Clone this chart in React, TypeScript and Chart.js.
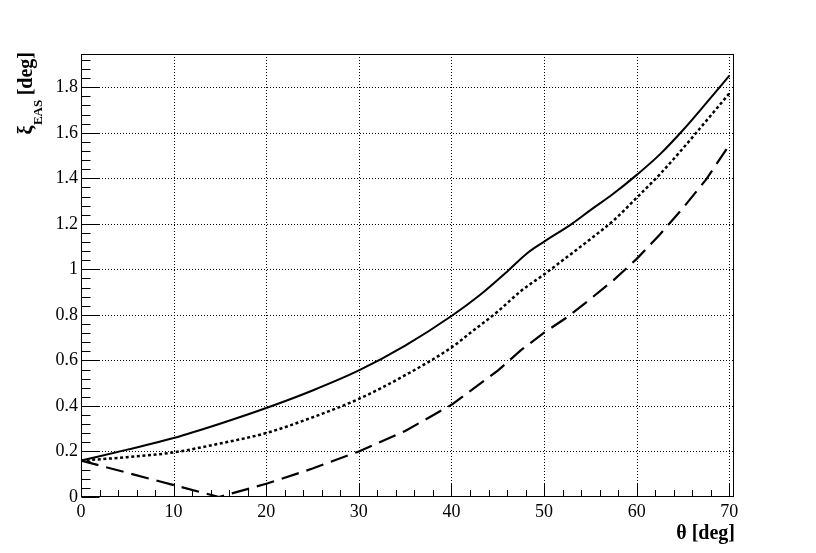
import { useEffect, useRef } from 'react';
import { Chart, registerables } from 'chart.js';
Chart.register(...registerables);

const FONT = '"Liberation Serif", "DejaVu Serif", "Noto Serif", "Times New Roman", serif';

// Solid curve
const thetaSolid = [0, 5, 10, 15, 20, 25, 30, 35, 40, 43, 46, 48.2, 50, 53, 55, 57.5, 60, 62.5, 65, 67.5, 70];
const xiSolid = [0.16, 0.208, 0.259, 0.322, 0.391, 0.468, 0.556, 0.665, 0.795, 0.885, 0.99, 1.072, 1.122, 1.2, 1.26, 1.333, 1.415, 1.505, 1.612, 1.73, 1.851];
// Dotted curve
const thetaDotted = [0, 5, 10, 15, 20, 25, 30, 35, 40, 42, 45, 47.5, 50, 52.5, 55, 57.5, 60, 62.5, 65, 67.5, 70];
const xiDotted = [0.16, 0.175, 0.196, 0.235, 0.281, 0.35, 0.431, 0.535, 0.657, 0.72, 0.815, 0.905, 0.978, 1.055, 1.133, 1.215, 1.315, 1.418, 1.532, 1.652, 1.773];
// Dashed curve
const thetaDashed = [0, 14.9, 20, 25, 30, 35, 40, 45, 47.5, 50, 52.5, 55, 57.5, 60, 62.5, 65, 67.5, 70];
const xiDashed = [0.16, 0.0, 0.058, 0.125, 0.2, 0.29, 0.405, 0.555, 0.645, 0.722, 0.79, 0.87, 0.953, 1.046, 1.153, 1.27, 1.395, 1.547];

const xTicks = [0, 10, 20, 30, 40, 50, 60, 70];
const xTickLabels = ['0', '10', '20', '30', '40', '50', '60', '70'];
const yTicks = [0, 0.2, 0.4, 0.6, 0.8, 1.0, 1.2, 1.4, 1.6, 1.8];
const yTickLabels = ['0', '0.2', '0.4', '0.6', '0.8', '1', '1.2', '1.4', '1.6', '1.8'];
const xMinorStep = 2;
const yMinorStep = 0.04;
const X_MIN = 0, X_MAX = 70.5, Y_MIN = 0, Y_MAX = 1.946;

const xTitle = 'θ [deg]';
const yTitleMain = 'ξ';
const yTitleSub = 'EAS';
const yTitleUnit = ' [deg]';

const toPts = (xs: number[], ys: number[]) => xs.map((x, i) => ({ x, y: ys[i] }));

const rootPlugin = {
  id: 'rootStyle',
  beforeDatasetsDraw(chart: any) {
    const { ctx, chartArea: a } = chart;
    const xs = chart.scales.x, ys = chart.scales.y;
    ctx.save();
    ctx.strokeStyle = '#000';
    ctx.lineWidth = 1;
    ctx.setLineDash([1, 2]);
    xTicks.forEach((v) => {
      if (v === X_MIN) return;
      const px = Math.round(xs.getPixelForValue(v)) + 0.5;
      ctx.beginPath();
      ctx.moveTo(px, a.top);
      ctx.lineTo(px, a.bottom);
      ctx.stroke();
    });
    yTicks.forEach((v) => {
      if (v === Y_MIN) return;
      const py = Math.round(ys.getPixelForValue(v)) + 0.5;
      ctx.beginPath();
      ctx.moveTo(a.left, py);
      ctx.lineTo(a.right, py);
      ctx.stroke();
    });
    ctx.restore();
  },
  afterDatasetsDraw(chart: any) {
    const { ctx, chartArea: a } = chart;
    const xs = chart.scales.x, ys = chart.scales.y;
    ctx.save();
    ctx.strokeStyle = '#000';
    ctx.lineWidth = 1;
    ctx.setLineDash([]);
    const L = Math.round(a.left) + 0.5, R = Math.round(a.right) - 0.5;
    const T = Math.round(a.top) + 0.5, B = Math.round(a.bottom) - 0.5;
    ctx.strokeRect(L, T, R - L, B - T);
    const nx = Math.round((X_MAX - X_MIN) / xMinorStep);
    for (let i = 0; i <= nx; i++) {
      const v = X_MIN + i * xMinorStep;
      if (v > X_MAX) break;
      const major = i % 5 === 0;
      const px = Math.round(xs.getPixelForValue(v)) + 0.5;
      ctx.beginPath();
      ctx.moveTo(px, B);
      ctx.lineTo(px, B - (major ? 13 : 6.5));
      ctx.stroke();
    }
    const ny = Math.round((Y_MAX - Y_MIN) / yMinorStep);
    for (let i = 0; i <= ny; i++) {
      const v = Y_MIN + i * yMinorStep;
      if (v > Y_MAX) break;
      const major = i % 5 === 0;
      const py = Math.round(ys.getPixelForValue(v)) + 0.5;
      ctx.beginPath();
      ctx.moveTo(L, py);
      ctx.lineTo(L + (major ? 18 : 9), py);
      ctx.stroke();
    }
    ctx.restore();
  },
  afterDraw(chart: any) {
    const { ctx } = chart;
    ctx.save();
    ctx.fillStyle = '#000';
    ctx.textBaseline = 'alphabetic';
    ctx.font = `bold 20px ${FONT}`;
    ctx.textAlign = 'right';
    ctx.fillText(xTitle, 735, 538.5);
    ctx.textAlign = 'left';
    const mainFont = `bold 20px ${FONT}`;
    const subFont = `bold 13px ${FONT}`;
    ctx.font = mainFont;
    const wMain = ctx.measureText(yTitleMain).width;
    const wUnit = ctx.measureText(yTitleUnit).width;
    ctx.font = subFont;
    const wSub = ctx.measureText(yTitleSub).width;
    const total = wMain + wSub + wUnit;
    ctx.translate(31.5, 52);
    ctx.rotate(-Math.PI / 2);
    ctx.font = mainFont;
    ctx.fillText(yTitleMain, -total, 0);
    ctx.font = subFont;
    ctx.fillText(yTitleSub, -total + wMain + 0.5, 10);
    ctx.font = mainFont;
    ctx.fillText(yTitleUnit, -wUnit, 0);
    ctx.restore();
  },
};

export default function App() {
  const ref = useRef<HTMLCanvasElement>(null);
  useEffect(() => {
    if (!ref.current) return;
    const chart = new Chart(ref.current, {
      type: 'line',
      data: {
        datasets: [
          {
            data: toPts(thetaSolid, xiSolid),
            borderColor: '#000',
            borderWidth: 2,
            pointRadius: 0,
            fill: false,
            cubicInterpolationMode: 'monotone',
          },
          {
            data: toPts(thetaDotted, xiDotted),
            borderColor: '#000',
            borderWidth: 2.5,
            borderDash: [3, 2.6],
            pointRadius: 0,
            fill: false,
            cubicInterpolationMode: 'monotone',
          },
          {
            data: toPts(thetaDashed, xiDashed),
            borderColor: '#000',
            borderWidth: 2.2,
            borderDash: [18, 8],
            pointRadius: 0,
            fill: false,
            tension: 0,
          },
        ],
      },
      options: {
        responsive: false,
        animation: false,
        devicePixelRatio: 1,
        layout: { padding: { top: 54, right: 82, left: 0, bottom: 0 } },
        plugins: { legend: { display: false }, tooltip: { enabled: false } },
        scales: {
          x: {
            type: 'linear',
            min: X_MIN,
            max: X_MAX,
            grid: { display: false, drawTicks: false },
            border: { display: false },
            afterBuildTicks: (s: any) => { s.ticks = xTicks.map((v) => ({ value: v })); },
            ticks: {
              color: '#000',
              font: { family: FONT, size: 18 },
              padding: 4,
              maxRotation: 0,
              autoSkip: false,
              callback: (_v: any, i: number) => xTickLabels[i],
            },
            afterFit: (s: any) => { s.height = 56; },
          },
          y: {
            type: 'linear',
            min: Y_MIN,
            max: Y_MAX,
            grid: { display: false, drawTicks: false },
            border: { display: false },
            afterBuildTicks: (s: any) => { s.ticks = yTicks.map((v) => ({ value: v })); },
            ticks: {
              color: '#000',
              font: { family: FONT, size: 18 },
              padding: 3,
              autoSkip: false,
              callback: (_v: any, i: number) => yTickLabels[i],
            },
            afterFit: (s: any) => { s.width = 81; },
          },
        },
      },
      plugins: [rootPlugin],
    } as any);
    return () => { chart.destroy(); };
  }, []);
  return (
    <div style={{ position: 'absolute', left: 0, top: 0, width: 816, height: 553, background: '#fff' }}>
      <canvas ref={ref} width={816} height={553} style={{ display: 'block' }} />
    </div>
  );
}
